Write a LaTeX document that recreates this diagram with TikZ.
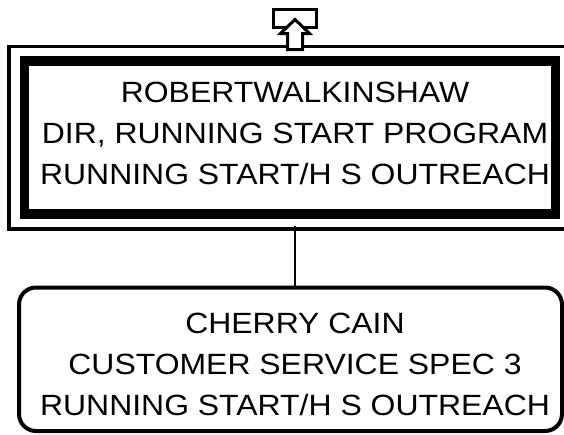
\documentclass[tikz,border=0pt]{standalone}
\usepackage{fontspec}
\setmainfont{Liberation Sans}[FakeStretch=1.09]
\begin{document}
\begin{tikzpicture}[x=1pt,y=-1pt,
  boxtext/.style={align=center, inner sep=0pt, font=\fontsize{29.3}{40.8}\selectfont},
  bossbox/.style={draw, line width=9.5pt, minimum width=531pt, minimum height=153pt, inner sep=0pt},
  empbox/.style={draw, line width=4pt, rounded corners=17pt, minimum width=543pt, minimum height=143.5pt, inner sep=0pt},
  link/.style={line width=2.2pt},
  upicon/.style={line width=3pt, line join=miter}
]
\useasboundingbox (0,0) rectangle (564,434);
\begin{scope}
\clip (0,0) rectangle (564,434);
% top box
\node[bossbox] (boss) at (290,137.5) {};
\draw[line width=3.5pt] ([shift={(-10.75,-10)}]boss.north west) rectangle ([shift={(7.5,10)}]boss.south east);
\node[boxtext] (bosst) at (295,133.5) {ROBERTWALKINSHAW\\DIR, RUNNING START PROGRAM\\RUNNING START/H S OUTREACH};
% bottom box
\node[empbox] (emp) at (290.5,359.25) {};
\node[boxtext] (empt) at (295,364.5) {CHERRY CAIN\\CUSTOMER SERVICE SPEC 3\\RUNNING START/H S OUTREACH};
% connector
\coordinate (bossb) at (295,226);
\coordinate (empn) at (295,287.5);
\draw[link] (bossb) -- (empn);
% icon above
\draw[upicon] (273.2,9.8) rectangle (316.5,27.5);
\coordinate (icontip) at (295,19.5);
\draw[upicon, fill=white] (icontip) -- (309.5,33.5) -- (302.5,33.5) -- (302.5,49.5) -- (287.5,49.5) -- (287.5,33.5) -- (280.5,33.5) -- cycle;
\end{scope}
\end{tikzpicture}
\end{document}
